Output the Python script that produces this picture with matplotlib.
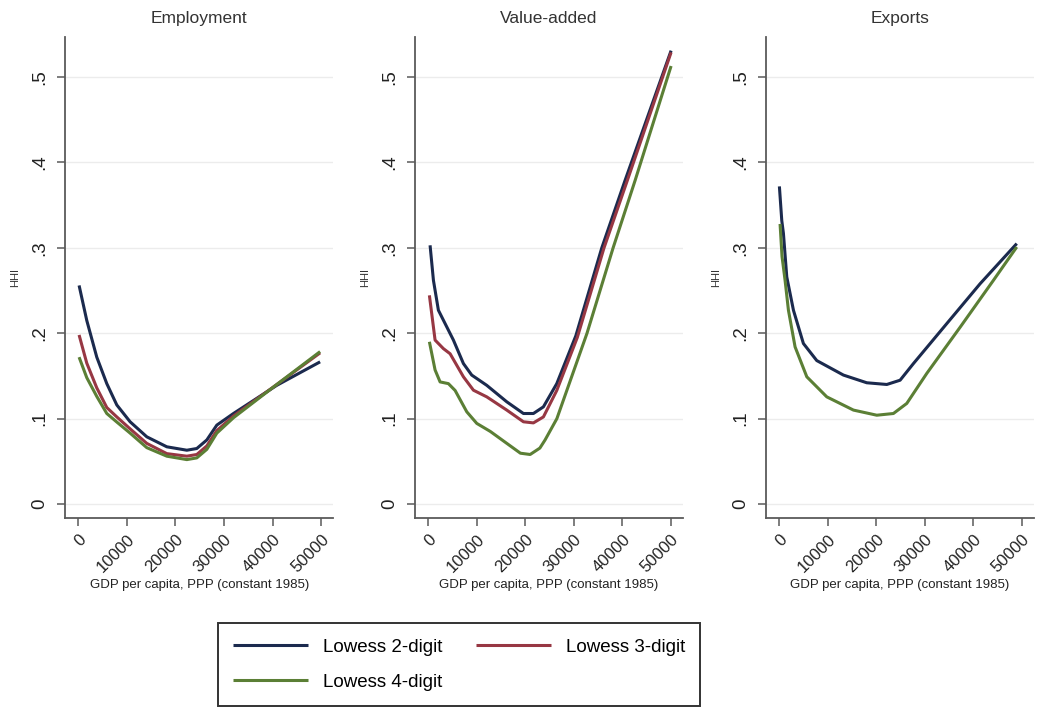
import matplotlib.pyplot as plt

plt.rcParams['font.family'] = ['Liberation Sans', 'DejaVu Sans']

panel_titles = ['Employment', 'Value-added', 'Exports']
series_names = ['Lowess 2-digit', 'Lowess 3-digit', 'Lowess 4-digit']
series_colors = ['#1b2a4e', '#973743', '#5b7f35']

# Employment HHI vs GDP per capita
emp2_x = [200, 1780, 3840, 5900, 7960, 10700, 14130, 18250, 22370, 24420, 26480, 28540, 31960, 40880, 49790]
emp2_y = [0.256, 0.215, 0.172, 0.141, 0.116, 0.0963, 0.0787, 0.067, 0.063, 0.065, 0.075, 0.0924, 0.106, 0.139, 0.1665]
emp3_x = [200, 1780, 3840, 5900, 7960, 10700, 14130, 18250, 22370, 24420, 26480, 28540, 31960, 40880, 49790]
emp3_y = [0.198, 0.165, 0.136, 0.113, 0.102, 0.088, 0.071, 0.059, 0.056, 0.058, 0.068, 0.086, 0.103, 0.140, 0.177]
emp4_x = [200, 1780, 3840, 5900, 7960, 10700, 14130, 18250, 22370, 24420, 26480, 28540, 31960, 40880, 49790]
emp4_y = [0.172, 0.148, 0.126, 0.106, 0.096, 0.083, 0.066, 0.056, 0.052, 0.054, 0.064, 0.083, 0.101, 0.140, 0.1785]

# Value-added HHI
va2_x = [410, 1100, 2120, 3840, 5210, 7270, 8980, 12070, 16190, 19620, 21670, 23730, 26480, 30400, 35740, 40530, 50000]
va2_y = [0.303, 0.262, 0.227, 0.2075, 0.192, 0.1645, 0.151, 0.139, 0.1197, 0.106, 0.106, 0.1138, 0.141, 0.197, 0.300, 0.379, 0.531]
va3_x = [270, 1440, 3150, 4530, 7270, 9330, 12070, 16190, 19620, 21670, 23730, 26480, 30700, 36200, 41000, 50000]
va3_y = [0.2444, 0.192, 0.182, 0.176, 0.149, 0.1333, 0.1255, 0.110, 0.0963, 0.095, 0.102, 0.133, 0.195, 0.300, 0.379, 0.529]
va4_x = [270, 1440, 2470, 4180, 5560, 7960, 10020, 12800, 16200, 19000, 21000, 23000, 24070, 26500, 32700, 38070, 42600, 50000]
va4_y = [0.190, 0.157, 0.143, 0.141, 0.133, 0.108, 0.0944, 0.085, 0.071, 0.0595, 0.058, 0.0655, 0.075, 0.100, 0.200, 0.300, 0.379, 0.513]

# Exports HHI
ex2_x = [60, 550, 890, 1580, 2950, 5000, 7750, 13240, 18040, 22160, 24900, 27640, 34500, 41360, 48900]
ex2_y = [0.372, 0.332, 0.317, 0.266, 0.227, 0.188, 0.168, 0.151, 0.142, 0.140, 0.145, 0.1645, 0.2113, 0.258, 0.305]
ex4_x = [200, 600, 1230, 1920, 3290, 5700, 9810, 15300, 20100, 23520, 26270, 30390, 37240, 44100, 48900]
ex4_y = [0.328, 0.290, 0.262, 0.227, 0.184, 0.149, 0.1255, 0.110, 0.104, 0.106, 0.1178, 0.153, 0.207, 0.262, 0.301]

panels = [
    [(emp2_x, emp2_y, 0), (emp3_x, emp3_y, 1), (emp4_x, emp4_y, 2)],
    [(va2_x, va2_y, 0), (va3_x, va3_y, 1), (va4_x, va4_y, 2)],
    [(ex2_x, ex2_y, 0), (ex4_x, ex4_y, 2)],
]

x_ticks = [0, 10000, 20000, 30000, 40000, 50000]
y_ticks = [0, 0.1, 0.2, 0.3, 0.4, 0.5]
y_tick_labels = ['0', '.1', '.2', '.3', '.4', '.5']
axis_gray = '#5a5a5a'

fig = plt.figure(figsize=(10.5, 7.14), dpi=100)
lefts = [0.0619, 0.3952, 0.7295]
handles = {}

for left, title, series in zip(lefts, panel_titles, panels):
    ax = fig.add_axes([left, 0.2745, 0.2555, 0.6737])
    for yt in y_ticks:
        ax.axhline(yt, color='#ececec', lw=1.0, zorder=0)
    for xs, ys, k in series:
        line, = ax.plot(xs, ys, color=series_colors[k], lw=2.2, solid_capstyle='butt')
        handles[k] = line
    ax.set_xlim(-2700, 52500)
    ax.set_ylim(-0.0164, 0.547)
    ax.set_xticks(x_ticks)
    ax.set_xticklabels([str(v) for v in x_ticks], rotation=45, ha='right',
                       rotation_mode='anchor', fontsize=12, color='#222222')
    ax.set_yticks(y_ticks)
    ax.set_yticklabels(y_tick_labels, rotation=90, va='center', fontsize=13.5, color='#222222')
    for side in ['top', 'right']:
        ax.spines[side].set_visible(False)
    for side in ['left', 'bottom']:
        ax.spines[side].set_color(axis_gray)
        ax.spines[side].set_linewidth(1.3)
    ax.tick_params(axis='both', colors=axis_gray, length=6, width=1.1, labelcolor='#222222')
    ax.tick_params(axis='y', pad=6)
    ax.tick_params(axis='x', pad=4)
    ax.set_title(title, fontsize=12.5, color='#333333', pad=10)
    ax.set_ylabel('HHI', fontsize=8, color='#333333', labelpad=8)
    ax.set_xlabel('GDP per capita, PPP (constant 1985)', fontsize=9.5, color='#222222', labelpad=3)

# legend laid out row-wise: 2-digit, 3-digit / 4-digit
leg = fig.legend([handles[0], handles[2], handles[1]],
                 [series_names[0], series_names[2], series_names[1]],
                 loc='center', bbox_to_anchor=(0.437, 0.0693), ncol=2,
                 fontsize=13.5, handlelength=4.0, handletextpad=0.8,
                 columnspacing=1.8, labelspacing=0.95, borderpad=0.8,
                 fancybox=False, framealpha=1.0)
leg.get_frame().set_edgecolor('#333333')
leg.get_frame().set_linewidth(1.4)

fig.savefig('out.png', dpi=100)
